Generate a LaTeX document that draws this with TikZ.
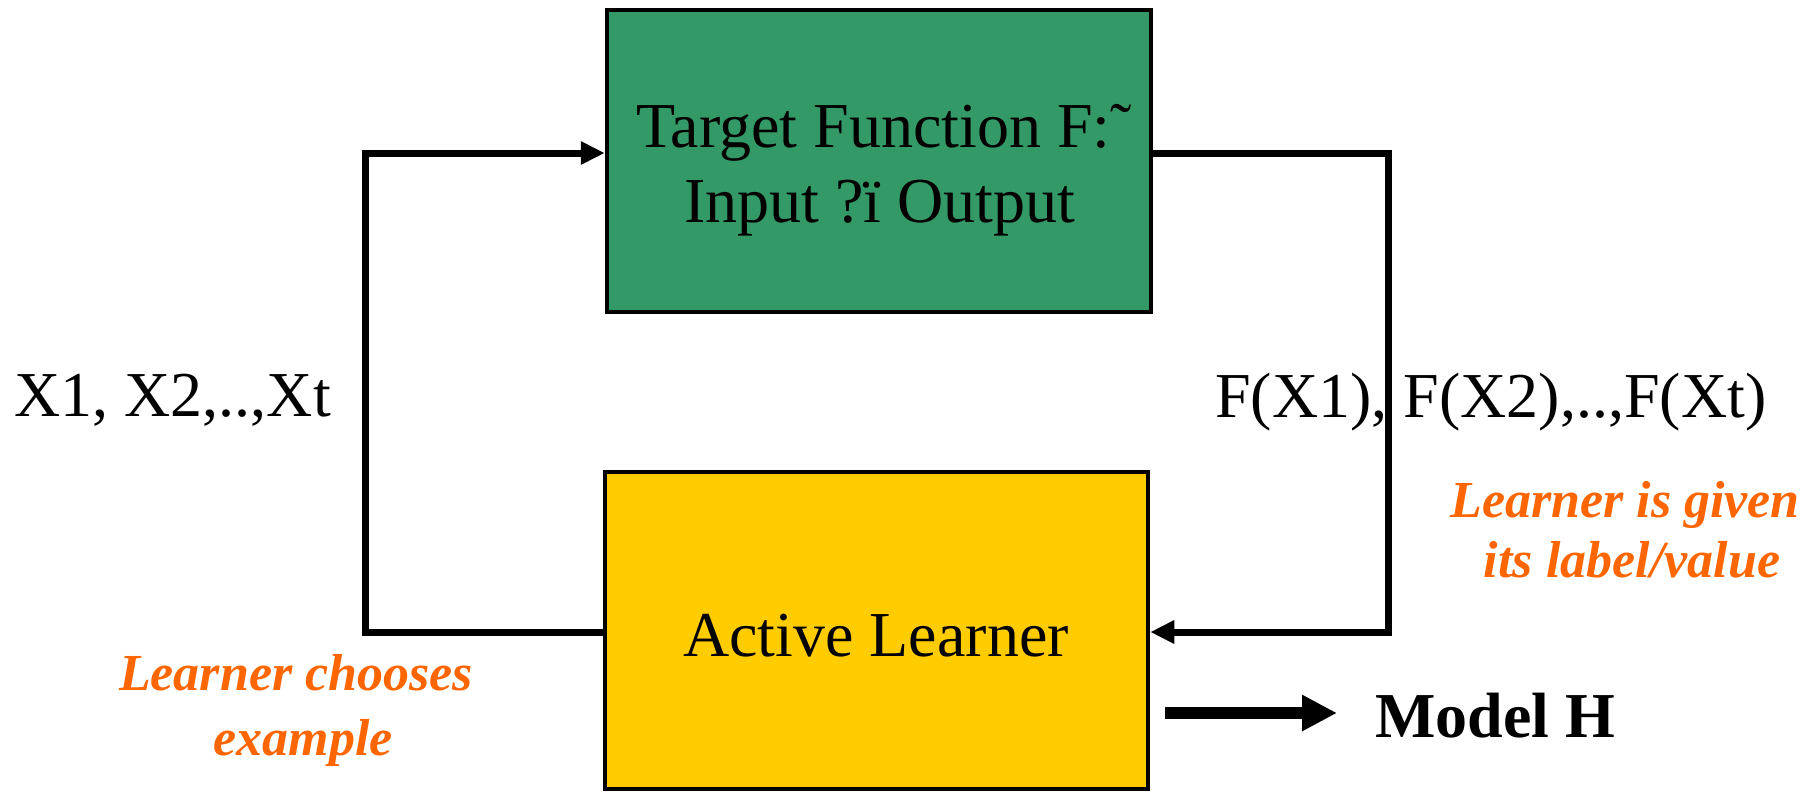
\documentclass[tikz,border=0pt]{standalone}
\usepackage{fontspec}
\setmainfont{Liberation Serif}
\usetikzlibrary{arrows.meta}
\definecolor{boxgreen}{RGB}{51,153,102}
\definecolor{boxyellow}{RGB}{255,204,0}
\definecolor{noteorange}{RGB}{255,102,0}
\tikzset{
  block/.style={draw=black, line width=2.25pt, inner sep=0pt},
  bigtext/.style={font=\fontsize{32}{38}\selectfont, inner sep=0pt},
  note/.style={font=\fontsize{26}{30}\selectfont\bfseries\itshape, text=noteorange, inner sep=0pt, anchor=base},
  loop/.style={line width=3.5pt, line join=miter, -{Triangle[length=12pt,width=11pt]}},
  outarrow/.style={line width=6pt, -{Triangle[length=17.5pt,width=17pt]}}
}
\begin{document}
\begin{tikzpicture}[x=0.5pt, y=-0.5pt]
  \useasboundingbox (0,0) rectangle (1816,793);

  % the two blocks
  \node[block, fill=boxgreen, minimum width=272pt, minimum height=151pt] (target) at (879,161) {};
  \node[block, fill=boxyellow, minimum width=271.5pt, minimum height=158.5pt] (learner) at (876.5,630.5) {};

  % block texts
  \node[bigtext, anchor=base] (targetA) at (884,147) {Target Function F:˜};
  \node[bigtext, anchor=base] (targetB) at (880,222) {Input ?ï Output};
  \node[bigtext, anchor=base] (learnerT) at (876,656) {Active Learner};

  % loop corners
  \coordinate (ltop) at (365,153);
  \coordinate (lbot) at (365,632);
  \coordinate (rtop) at (1388,153);
  \coordinate (rbot) at (1388,632);

  % queries go up, answers come back down
  \draw[loop] (learner.west |- lbot) -- (lbot) -- (ltop) -- (target.west |- ltop);
  \draw[loop] (target.east |- rtop) -- (rtop) -- (rbot) -- (learner.east |- rbot);

  % side labels
  \node[bigtext, anchor=base west] (xs) at (14,416) {X1, X2,..,Xt};
  \node[bigtext, anchor=base west] (fxs) at (1215,417) {F(X1), F(X2),..,F(Xt)};

  \node[note] (givenA) at (1625,517) {Learner is given};
  \node[note] (givenB) at (1632,577) {its label/value};
  \node[note] (choosesA) at (296,690) {Learner chooses};
  \node[note] (choosesB) at (303,755) {example};

  % output model
  \node[bigtext, font=\fontsize{32}{38}\selectfont\bfseries, anchor=base west] (model) at (1375,737) {Model H};
  \coordinate (mout) at (1200,713);
  \draw[outarrow, shorten <=7.5pt, shorten >=19pt] (learner.east |- mout) -- (model.west |- mout);
\end{tikzpicture}
\end{document}
